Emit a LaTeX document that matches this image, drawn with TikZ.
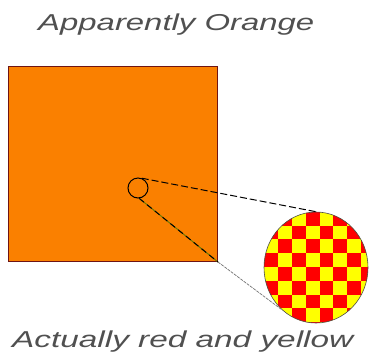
\documentclass[tikz,border=0pt]{standalone}
\usepackage{fontspec}
\setmainfont{Liberation Sans}
\usetikzlibrary{shapes.geometric}
\definecolor{orng}{RGB}{250,128,0}
\definecolor{redc}{RGB}{255,0,0}
\definecolor{yelc}{RGB}{255,255,0}
\definecolor{brd}{RGB}{110,20,20}
\definecolor{txt}{RGB}{80,80,80}
\definecolor{olv}{RGB}{110,120,0}
\begin{document}
\begin{tikzpicture}[x=1pt,y=-1pt,
  lbl/.style={inner sep=0pt, anchor=base west, text=txt, font=\fontsize{23}{27}\selectfont\itshape},
  zoomline/.style={black, line width=1pt, dash pattern=on 7pt off 3pt},
  thinline/.style={black!55, line width=0.7pt, dash pattern=on 3pt off 1pt}]
\useasboundingbox (0,0) rectangle (371,360);
\node[lbl] (toplbl) at (38,30) {\scalebox{1.43}[1]{Apparently Orange}};
\node[lbl] (botlbl) at (12,347) {\scalebox{1.45}[1]{Actually red and yellow}};
% square
\node[draw=brd, fill=orng, line width=1pt, inner sep=0pt, minimum width=209pt, minimum height=195pt, anchor=north west] (sq) at (8,66) {};
% checkerboard
\begin{scope}
  \clip (316,267.5) ellipse [x radius=52, y radius=55.5];
  \fill[yelc] (260,205) rectangle (375,330);
  \foreach \r in {0,...,8}{\foreach \c in {0,...,7}{
    \pgfmathtruncatemacro{\odd}{mod(\r+\c,2)}
    \ifnum\odd=1 \fill[redc] ({264.4+\c*13.8},{211.7+\r*13.8}) rectangle ++(13.8,13.8);\fi
  }}
\end{scope}
\node[ellipse, draw=black!70, line width=0.6pt, inner sep=0pt, minimum width=104pt, minimum height=111pt] (big) at (316,267.5) {};
% small circle
\node[circle, draw=black, line width=1pt, inner sep=0pt, minimum size=20pt] (sm) at (138,188) {};
% connectors
\draw[zoomline] (sm.69) -- (big.north);
\draw[olv, line width=1pt] (sm.-83) -- (sq.south east);
\draw[black, line width=1pt, dash pattern=on 6pt off 4pt] (sm.-83) -- (sq.south east);
\draw[thinline] (sq.south east) -- (big.231);
\end{tikzpicture}
\end{document}
